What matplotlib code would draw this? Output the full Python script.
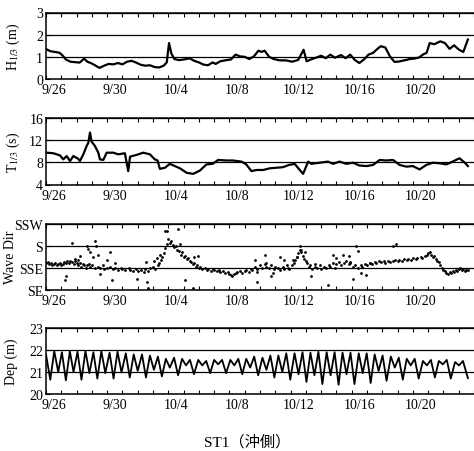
import numpy as np
import matplotlib
matplotlib.use("Agg")
import matplotlib.pyplot as plt

plt.rcParams['font.family'] = ['Liberation Serif', 'Noto Sans CJK JP']
plt.rcParams['mathtext.fontset'] = 'stix'

# x axis: days counted from 9/26 00:00
date_labels = ["9/26", "9/30", "10/4", "10/8", "10/12", "10/16", "10/20"]
date_days = [0, 4, 8, 12, 16, 20, 24]

# significant wave height H1/3 (m)
h_days = [0.0, 0.3, 0.6, 0.9, 1.1, 1.3, 1.6, 1.9, 2.2, 2.5, 2.7, 3.0, 3.3, 3.5, 3.8,
          4.1, 4.4, 4.7, 5.0, 5.3, 5.6, 5.9, 6.2, 6.5, 6.8, 7.1, 7.4, 7.7, 7.9, 8.05,
          8.2, 8.4, 8.7, 9.0, 9.4, 9.7, 10.0, 10.3, 10.6, 10.9, 11.1, 11.4, 11.8, 12.1,
          12.4, 12.7, 13.0, 13.3, 13.6, 13.9, 14.1, 14.3, 14.6, 14.9, 15.3, 15.7, 16.1,
          16.5, 16.85, 17.05, 17.4, 17.7, 18.0, 18.3, 18.6, 18.9, 19.3, 19.6, 19.9,
          20.2, 20.5, 20.8, 21.1, 21.4, 21.7, 21.9, 22.2, 22.5, 22.8, 23.1, 23.5, 23.8,
          24.1, 24.4, 24.7, 24.9, 25.1, 25.4, 25.8, 26.1, 26.4, 26.7, 27.0, 27.3, 27.6]
h_vals = [1.35, 1.25, 1.22, 1.18, 1.05, 0.88, 0.78, 0.76, 0.74, 0.92, 0.78, 0.70, 0.58,
          0.50, 0.60, 0.68, 0.66, 0.72, 0.66, 0.78, 0.82, 0.74, 0.64, 0.60, 0.62, 0.54,
          0.52, 0.60, 0.75, 1.62, 1.15, 0.90, 0.85, 0.88, 0.93, 0.82, 0.75, 0.65, 0.62,
          0.75, 0.68, 0.80, 0.85, 0.88, 1.10, 1.02, 1.00, 0.90, 1.02, 1.28, 1.22, 1.28,
          1.00, 0.90, 0.84, 0.84, 0.78, 0.86, 1.32, 0.80, 0.90, 0.97, 1.05, 0.94, 1.10,
          0.96, 1.08, 0.94, 1.10, 0.86, 0.72, 0.88, 1.10, 1.18, 1.37, 1.48, 1.42, 1.02,
          0.77, 0.79, 0.85, 0.90, 0.92, 0.97, 1.12, 1.18, 1.62, 1.57, 1.70, 1.62, 1.36,
          1.52, 1.33, 1.22, 1.78]

# significant wave period T1/3 (s)
t_days = [0.04, 0.48, 0.92, 1.13, 1.35, 1.57, 1.79, 2.11, 2.22, 2.44, 2.66, 2.77, 2.88,
          2.98, 3.2, 3.42, 3.53, 3.75, 3.97, 4.4, 4.73, 5.16, 5.38, 5.5, 5.93, 6.36, 6.8,
          7.12, 7.3, 7.45, 7.78, 8.1, 8.43, 8.76, 9.2, 9.63, 10.07, 10.5, 10.9, 11.26,
          11.8, 12.24, 12.79, 13.1, 13.44, 13.77, 14.2, 14.64, 15.07, 15.5, 15.9, 16.27,
          16.6, 16.82, 17.15, 17.36, 17.9, 18.45, 18.78, 19.2, 19.65, 20.09, 20.5, 20.96,
          21.4, 21.83, 22.27, 22.7, 23.14, 23.57, 24.0, 24.44, 24.88, 25.3, 25.75, 26.2,
          26.6, 27.05, 27.4, 27.6]
t_vals = [9.7, 9.6, 9.2, 8.5, 9.1, 8.2, 9.1, 8.6, 8.2, 9.4, 10.9, 11.5, 13.3, 11.7, 10.9,
          9.7, 8.5, 8.4, 9.7, 9.7, 9.4, 9.6, 6.4, 9.0, 9.3, 9.7, 9.4, 8.5, 8.3, 6.8, 7.0,
          7.7, 7.3, 6.9, 6.1, 5.9, 6.5, 7.6, 7.7, 8.4, 8.3, 8.3, 8.1, 7.6, 6.4, 6.6, 6.6,
          6.9, 7.0, 7.1, 7.5, 7.7, 6.6, 5.9, 8.1, 7.7, 7.9, 8.1, 7.7, 8.1, 7.7, 7.9, 7.4,
          7.3, 7.5, 8.4, 8.3, 8.4, 7.5, 7.2, 7.3, 6.7, 7.5, 7.9, 7.8, 7.6, 8.1, 8.7, 7.9,
          7.3]

# wave direction, 0 = SE, 1 = SSE, 2 = S, 3 = SSW
dir_names = ["SE", "SSE", "S", "SSW"]
dir_days = [0.0, 0.1, 0.2, 0.3, 0.4, 0.5, 0.6, 0.7, 0.8, 0.9, 1.0, 1.1, 1.2, 1.3, 1.4,
            1.5, 1.6, 1.7, 1.8, 1.9, 2.0, 2.1, 2.2, 2.3, 2.4, 2.5, 2.6, 2.7, 2.8, 2.9,
            3.0, 3.2, 3.4, 3.5, 3.7, 3.8, 4.0, 4.2, 4.4, 4.5, 4.7, 4.9, 5.0, 5.2, 5.4,
            5.5, 5.7, 5.9, 6.0, 6.2, 6.4, 6.5, 6.7, 6.8, 7.0, 7.1, 7.3, 7.4, 7.5, 7.6,
            7.7, 7.8, 7.9, 8.0, 8.1, 8.2, 8.3, 8.4, 8.5, 8.6, 8.7, 8.8, 8.9, 9.0, 9.1,
            9.2, 9.3, 9.4, 9.5, 9.6, 9.7, 9.8, 9.9, 10.0, 10.1, 10.2, 10.4, 10.5, 10.6,
            10.8, 10.9, 11.0, 11.2, 11.3, 11.4, 11.6, 11.7, 11.9, 12.0, 12.1, 12.2, 12.3,
            12.4, 12.5, 12.7, 12.8, 13.0, 13.1, 13.3, 13.4, 13.5, 13.7, 13.8, 14.0, 14.1,
            14.3, 14.4, 14.6, 14.7, 14.9, 15.0, 15.2, 15.3, 15.5, 15.6, 15.8, 15.9, 16.1,
            16.2, 16.3, 16.4, 16.5, 16.6, 16.7, 16.8, 16.9, 17.0, 17.1, 17.2, 17.3, 17.4,
            17.6, 17.7, 17.9, 18.0, 18.2, 18.3, 18.5, 18.6, 18.8, 18.9, 19.0, 19.2, 19.3,
            19.5, 19.6, 19.8, 19.9, 20.1, 20.2, 20.4, 20.6, 20.7, 20.9, 21.0, 21.2, 21.3,
            21.5, 21.6, 21.8, 21.9, 22.1, 22.2, 22.4, 22.5, 22.7, 22.8, 23.0, 23.1, 23.3,
            23.4, 23.6, 23.7, 23.9, 24.0, 24.2, 24.3, 24.5, 24.6, 24.8, 24.9, 25.0, 25.1,
            25.2, 25.3, 25.4, 25.5, 25.6, 25.7, 25.8, 25.9, 26.0, 26.1, 26.2, 26.3, 26.4,
            26.5, 26.6, 26.7, 26.8, 26.9, 27.0, 27.1, 27.2, 27.3, 27.4, 27.5, 27.6]
dir_vals = [1.2, 1.25, 1.15, 1.2, 1.1, 1.15, 1.2, 1.1, 1.15, 1.2, 1.1, 1.15, 1.25, 1.2,
            1.3, 1.2, 1.3, 1.25, 1.15, 1.3, 1.2, 1.1, 1.2, 1.05, 1.15, 1.1, 1.0, 1.1, 1.15,
            1.05, 1.1, 1.0, 1.05, 1.0, 1.1, 0.95, 1.0, 1.05, 0.95, 1.0, 0.9, 1.0, 0.95, 0.9,
            1.0, 0.9, 0.85, 0.95, 0.85, 0.9, 0.8, 0.95, 0.85, 1.0, 1.05, 0.95, 1.1, 1.2,
            1.35, 1.5, 1.65, 1.9, 2.1, 2.3, 2.15, 2.2, 2.05, 1.95, 2.0, 1.8, 1.75, 1.6, 1.7,
            1.5, 1.55, 1.4, 1.45, 1.3, 1.25, 1.15, 1.2, 1.05, 1.1, 1.0, 1.05, 0.95, 1.0, 0.9,
            0.95, 0.85, 0.95, 0.9, 0.85, 0.9, 0.8, 0.85, 0.75, 0.8, 0.7, 0.65, 0.6, 0.7,
            0.75, 0.8, 0.85, 0.75, 0.85, 0.9, 0.8, 0.95, 0.9, 1.05, 0.95, 1.1, 1.0, 1.15,
            1.05, 1.0, 1.1, 0.95, 1.05, 1.0, 0.9, 1.05, 0.95, 1.0, 0.95, 1.1, 1.2, 1.35,
            1.5, 1.65, 1.8, 1.7, 1.55, 1.4, 1.3, 1.2, 1.05, 1.1, 0.95, 1.05, 1.0, 1.1, 0.95,
            1.05, 1.0, 1.1, 1.05, 1.2, 1.0, 1.15, 1.25, 1.1, 1.2, 1.3, 1.15, 1.2, 1.05, 1.1,
            1.0, 1.1, 1.05, 1.15, 1.1, 1.2, 1.15, 1.25, 1.2, 1.3, 1.25, 1.3, 1.2, 1.3, 1.25,
            1.3, 1.35, 1.3, 1.35, 1.3, 1.4, 1.35, 1.4, 1.35, 1.45, 1.4, 1.45, 1.5, 1.45,
            1.55, 1.6, 1.65, 1.7, 1.6, 1.5, 1.55, 1.4, 1.3, 1.25, 1.1, 1.0, 0.9, 0.85, 0.75,
            0.7, 0.8, 0.75, 0.85, 0.8, 0.9, 0.85, 0.95, 1.0, 0.9, 0.95, 0.85, 0.9, 0.9]
# scattered readings away from the main band
dir_out_days = [1.68, 1.24, 1.3, 1.9, 2.1, 2.2, 2.65, 2.75, 2.9, 3.2, 3.3, 3.1, 3.4, 3.5,
                4.2, 4.3, 4.0, 4.5, 5.95, 6.55, 6.6, 6.7, 7.05, 7.25, 7.45, 7.8, 7.9, 8.65,
                8.75, 9.1, 9.6, 9.7, 9.95, 13.65, 13.8, 13.8, 14.3, 14.4, 14.75, 14.85,
                15.3, 15.6, 15.75, 16.15, 16.4, 16.6, 16.7, 16.95, 17.35, 17.6, 18.45, 18.8,
                19.0, 19.45, 19.8, 19.9, 20.1, 20.3, 20.4, 20.6, 20.95, 21.2, 22.7, 22.9]
dir_out_vals = [2.14, 0.42, 0.6, 1.4, 1.35, 1.55, 2.0, 1.85, 1.7, 2.24, 2.0, 1.5, 1.6, 0.7,
                1.7, 0.42, 1.35, 1.2, 0.5, 1.25, 0.35, 0.05, 1.3, 1.45, 1.6, 2.7, 2.7, 2.77,
                2.1, 0.42, 0.05, 1.5, 1.55, 1.35, 0.8, 0.35, 1.6, 1.2, 0.6, 0.75, 1.5, 1.35,
                1.1, 1.35, 1.5, 2.0, 1.8, 1.7, 0.6, 1.15, 0.2, 1.6, 1.45, 1.6, 1.55, 1.25,
                0.5, 2.0, 1.75, 0.75, 0.65, 1.2, 2.0, 2.1]

# water depth (m), highs and lows of the tide
dep_days = [0.00, 0.28, 0.54, 0.80, 1.04, 1.30, 1.56, 1.80, 2.06, 2.32, 2.58, 2.84,
            3.10, 3.36, 3.62, 3.88, 4.16, 4.42, 4.68, 4.94, 5.22, 5.48, 5.74, 6.00,
            6.28, 6.54, 6.80, 7.06, 7.32, 7.58, 7.84, 8.10, 8.38, 8.64, 8.90, 9.16,
            9.42, 9.68, 9.96, 10.22, 10.48, 10.74, 11.00, 11.26, 11.52, 11.78, 12.06, 12.32,
            12.58, 12.84, 13.10, 13.36, 13.62, 13.88, 14.16, 14.42, 14.68, 14.94, 15.20, 15.46,
            15.72, 15.98, 16.26, 16.52, 16.78, 17.04, 17.30, 17.56, 17.82, 18.08, 18.36, 18.62,
            18.88, 19.14, 19.40, 19.66, 19.92, 20.18, 20.46, 20.72, 20.98, 21.24, 21.50, 21.76,
            22.02, 22.28, 22.56, 22.82, 23.08, 23.34, 23.60, 23.86, 24.12, 24.38, 24.66, 24.92,
            25.18, 25.44, 25.70, 25.96, 26.22, 26.48, 26.76, 27.02, 27.28, 27.60]
dep_vals = [21.80, 20.65, 21.95, 21.00, 21.90, 20.62, 21.95, 21.00,
            21.92, 20.65, 21.95, 20.95, 21.90, 20.70, 21.95, 20.95,
            21.88, 20.70, 21.92, 20.98, 21.85, 20.75, 21.80, 21.05,
            21.80, 20.75, 21.75, 21.10, 21.70, 20.80, 21.60, 21.20,
            21.65, 20.85, 21.60, 21.30, 21.55, 20.90, 21.55, 21.30,
            21.50, 20.95, 21.55, 21.35, 21.55, 20.95, 21.55, 21.30,
            21.60, 20.90, 21.60, 21.20, 21.70, 20.85, 21.65, 21.10,
            21.75, 20.75, 21.75, 21.00, 21.85, 20.65, 21.85, 20.90,
            21.90, 20.55, 21.88, 20.85, 21.92, 20.45, 21.90, 20.85,
            21.90, 20.42, 21.88, 20.90, 21.88, 20.45, 21.85, 20.95,
            21.85, 20.50, 21.80, 21.05, 21.75, 20.60, 21.70, 21.20,
            21.65, 20.65, 21.60, 21.30, 21.60, 20.70, 21.50, 21.30,
            21.55, 20.75, 21.50, 21.35, 21.55, 20.70, 21.45, 21.30,
            21.50, 20.72]

fig = plt.figure(figsize=(4.74, 4.52), dpi=100)
left, width = 46 / 474, 428 / 474
boxes = [(80, 66.5), (185.5, 67), (290.5, 65.5), (395, 66)]
axes = [fig.add_axes([left, 1 - b / 452, width, h / 452]) for b, h in boxes]

axes[0].plot(h_days, h_vals, color='k', lw=1.6, solid_joinstyle='round')
axes[0].set_ylim(0, 3)
axes[0].set_yticks([0, 1, 2, 3])
axes[0].set_ylabel('H$_{1/3}$ (m)')

axes[1].plot(t_days, t_vals, color='k', lw=1.6, solid_joinstyle='round')
axes[1].set_ylim(4, 16)
axes[1].set_yticks([4, 8, 12, 16])
axes[1].set_ylabel('T$_{1/3}$ (s)')

axes[2].scatter(dir_days, dir_vals, s=4, color='k', lw=0)
axes[2].scatter(dir_out_days, dir_out_vals, s=4, color='k', lw=0)
axes[2].set_ylim(0, 3)
axes[2].set_yticks([0, 1, 2, 3])
axes[2].set_yticklabels(dir_names, fontsize=8.5)
axes[2].set_ylabel('Wave Dir')

axes[3].plot(dep_days, dep_vals, color='k', lw=1.3, solid_joinstyle='round')
axes[3].set_ylim(20, 23)
axes[3].set_yticks([20, 21, 22, 23])
axes[3].set_ylabel('Dep (m)')

# right edge of each rotated y label, in axes units
label_x = [-0.056, -0.056, -0.068, -0.065]
for ax, lx in zip(axes, label_x):
    ax.set_xlim(0, 28)
    ax.set_xticks([d + 0.5 for d in date_days])
    ax.set_xticklabels(date_labels)
    ax.set_xticks(range(0, 29), minor=True)
    ax.tick_params(axis='x', which='major', length=0, labelsize=10, pad=3)
    ax.tick_params(axis='x', which='minor', direction='in', length=3, top=True, width=0.8)
    ax.tick_params(axis='y', direction='in', length=3, labelsize=10, pad=2)
    ax.yaxis.grid(True, color='k', lw=0.9)
    ax.set_axisbelow(True)
    ax.spines['right'].set_visible(False)
    for s in ['left', 'top', 'bottom']:
        ax.spines[s].set_linewidth(1.1)
    ax.yaxis.label.set_size(10)
    ax.yaxis.set_label_coords(lx, 0.5)

fig.text(247 / 474, 1 - 442 / 452, 'ST1（沖側）', ha='center', va='center', fontsize=11)

fig.savefig('out.png', dpi=100)
